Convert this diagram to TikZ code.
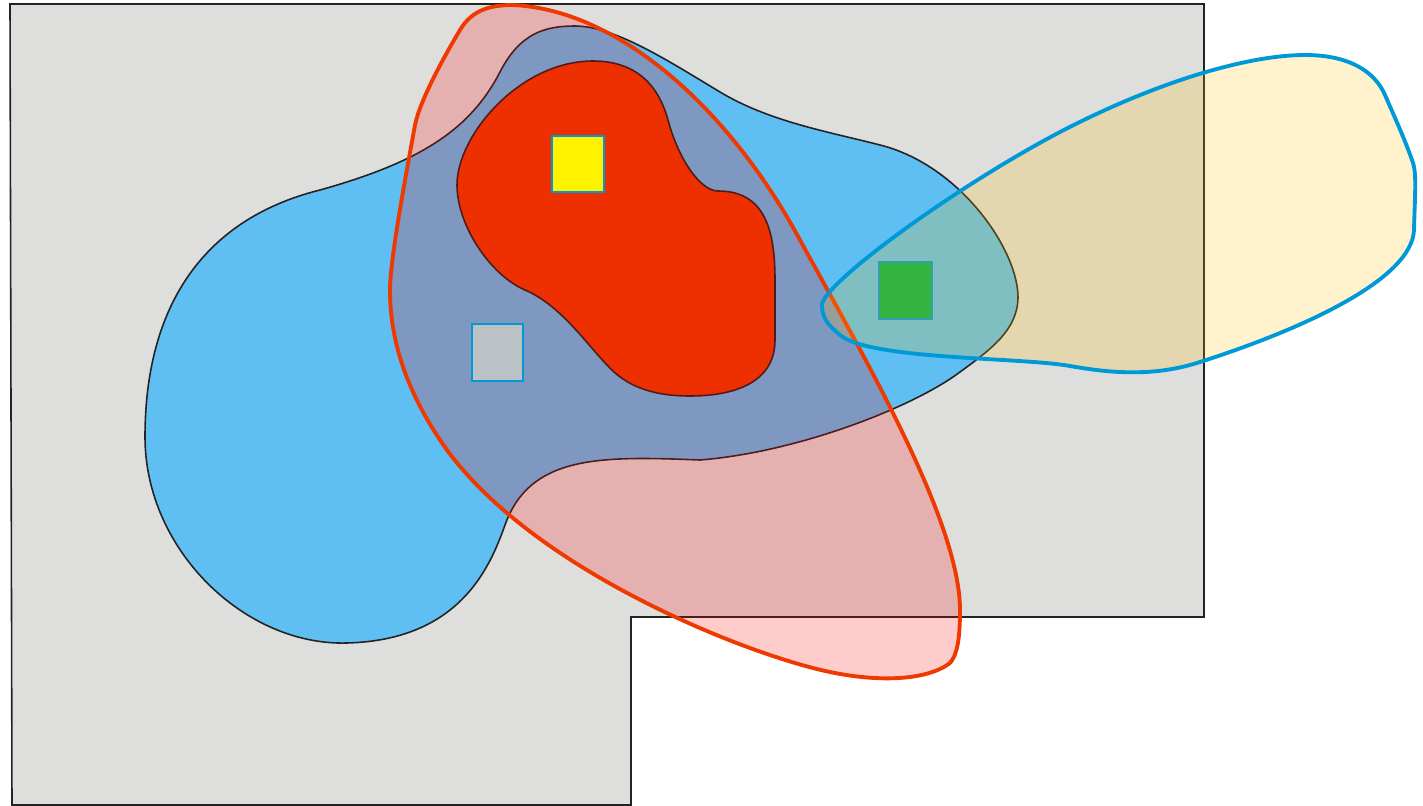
\documentclass[tikz,border=0pt]{standalone}
\usepackage{tikz}
\usetikzlibrary{positioning}
\usepackage{xcolor}
\definecolor{floor}{RGB}{222,222,220}
\definecolor{edge}{RGB}{35,35,35}
\definecolor{sky}{RGB}{95,191,242}
\definecolor{flame}{RGB}{234,60,0}
\definecolor{rim}{RGB}{238,58,0}
\definecolor{cyanrim}{RGB}{0,153,216}
\definecolor{amber}{RGB}{255,191,0}
\definecolor{stone}{RGB}{187,193,197}
\definecolor{leaf}{RGB}{0,176,80}

\begin{document}
\begin{tikzpicture}[x=0.01cm, y=-0.01cm,
  thin edge/.style={draw=edge, line width=0.45pt},
  marker/.style={draw=cyanrim, line width=0.5pt, inner sep=0pt, anchor=north west},
]
  \useasboundingbox (0,0) rectangle (1423,806);
  % background room
  \draw[thin edge, fill=floor] (10,4) -- (1204,4) -- (1204,617) -- (631,617) -- (631,805) -- (12,805) -- cycle;
  % blue region
  \draw[thin edge, fill=sky] (145,437) .. controls (145,310) and (200,220) .. (320,190)
    .. controls (420,162) and (470,130) .. (500,72)
    .. controls (520,33) and (545,26) .. (575,26)
    .. controls (615,26) and (670,62) .. (720,92)
    .. controls (770,122) and (830,132) .. (880,145)
    .. controls (960,165) and (1018,250) .. (1018,297)
    .. controls (1018,330) and (990,350) .. (960,372)
    .. controls (915,406) and (800,452) .. (700,460)
    .. controls (600,456) and (530,455) .. (505,525)
    .. controls (490,567) and (460,640) .. (347,643)
    .. controls (245,646) and (145,550) .. (145,437) -- cycle;
  % red core
  \draw[thin edge, fill=flame] (593,61) .. controls (640,61) and (660,90) .. (668,120)
    .. controls (678,158) and (700,191) .. (718,191)
    .. controls (765,191) and (775,230) .. (775,280)
    -- (775,340)
    .. controls (775,385) and (730,396) .. (690,396)
    .. controls (650,396) and (625,385) .. (607,365)
    .. controls (585,342) and (560,305) .. (525,290)
    .. controls (490,275) and (457,225) .. (457,185)
    .. controls (457,135) and (520,61) .. (593,61) -- cycle;
  \node[marker, fill=leaf, minimum width=0.53cm, minimum height=0.57cm] (goal) at (878,261) {};
  % red outline region
  \draw[draw=rim, line width=1.1pt, fill=red, fill opacity=0.2] (513,5)
    .. controls (620,10) and (730,110) .. (800,240)
    .. controls (860,350) and (960,520) .. (960,610)
    .. controls (960,640) and (957,655) .. (950,663)
    .. controls (925,682) and (870,683) .. (813,668)
    .. controls (720,644) and (520,560) .. (440,440)
    .. controls (400,380) and (390,330) .. (390,290)
    .. controls (390,260) and (405,180) .. (415,125)
    .. controls (420,100) and (445,55) .. (460,30)
    .. controls (472,10) and (490,5) .. (513,5) -- cycle;
  % yellow region
  \draw[draw=cyanrim, line width=1.1pt, fill=amber, fill opacity=0.2] (822,305)
    .. controls (822,285) and (950,190) .. (1060,132)
    .. controls (1160,80) and (1250,55) .. (1305,55)
    .. controls (1350,55) and (1375,72) .. (1385,95)
    .. controls (1395,118) and (1405,140) .. (1412,160)
    .. controls (1417,172) and (1415,190) .. (1414,230)
    .. controls (1412,280) and (1300,330) .. (1200,362)
    .. controls (1160,375) and (1120,375) .. (1070,366)
    .. controls (1020,357) and (870,360) .. (840,335)
    .. controls (828,325) and (822,318) .. (822,305) -- cycle;
  \node[marker, fill=yellow, minimum width=0.52cm, minimum height=0.56cm] (start) at (551,135) {};
  \node[marker, fill=stone, minimum width=0.51cm, minimum height=0.57cm] (probe) at (471,323) {};
\end{tikzpicture}
\end{document}
